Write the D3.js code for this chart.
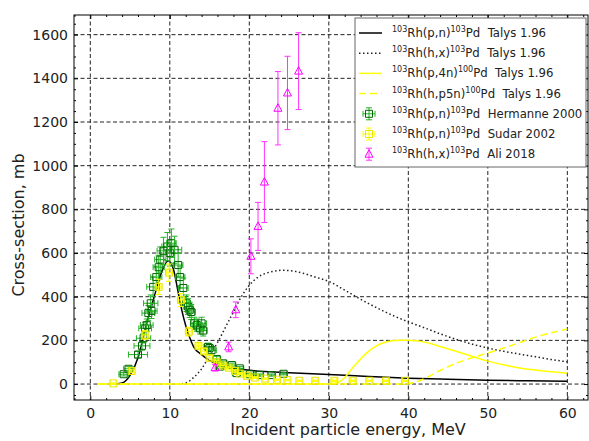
<!DOCTYPE html>
<html>
<head>
<meta charset="utf-8">
<script src="https://cdn.jsdelivr.net/npm/d3@7"></script>
<style>
  body { margin: 0; background: #fff; }
  svg { font-family: "DejaVu Sans", sans-serif; }
</style>
</head>
<body>
<svg id="drawing_region"></svg>
<script>
// Talys curves: energy (MeV) and cross-section (mb)
const pnTalysE  = [3.2, 4, 5, 6, 7, 8, 9, 9.8, 10.5, 11, 11.5, 12, 12.5, 13, 14, 15, 16, 17, 18, 20, 25, 30, 35, 40, 45, 50, 55, 60];
const pnTalysXs = [0, 5, 40, 120, 265, 395, 515, 565, 520, 430, 340, 268, 213, 170, 135, 108, 90, 79, 72, 63, 52, 44, 35, 27, 22, 18, 15, 13];

const hxTalysE  = [11, 12, 13, 14, 15, 16, 17, 18, 19, 20, 21, 22, 23, 24, 25, 26, 27, 28, 30, 32, 34, 36, 38, 40, 42, 44, 46, 48, 50, 52, 54, 56, 58, 60];
const hxTalysXs = [0, 5, 30, 70, 130, 190, 260, 330, 400, 452, 487, 506, 516, 521, 520, 514, 505, 493, 470, 430, 388, 350, 315, 285, 258, 230, 205, 183, 165, 150, 137, 125, 112, 102];

const p4nTalysE  = [1, 30, 31, 32, 33, 34, 35, 36, 37, 38, 39, 40, 41, 42, 43, 44, 46, 48, 50, 52, 54, 56, 58, 60];
const p4nTalysXs = [0, 0, 5, 30, 75, 115, 150, 175, 190, 198, 201, 201, 198, 192, 183, 172, 150, 127, 105, 88, 74, 64, 56, 50];

const hp5nTalysE  = [1, 39, 40, 41, 42, 44, 46, 48, 50, 52, 54, 56, 58, 60];
const hp5nTalysXs = [0, 0, 2, 10, 25, 62, 95, 120, 142, 165, 190, 215, 235, 252];

// Hermanne 2000: energy, cross-section, energy error, cross-section error
const hermE   = [4.2, 4.8, 6.0, 6.5, 6.7, 6.9, 7.1, 7.3, 7.6, 7.7, 7.9, 8.3, 8.6, 8.8, 9.2, 9.7, 10.0, 10.2, 10.6, 11.05, 11.3, 11.7, 12.1, 12.3, 12.5, 12.7, 13.1, 13.4, 13.8, 14.0, 14.2, 14.8, 15.0, 15.25, 15.9, 16.3, 16.7, 17.8, 18.4, 18.8, 20.1, 21.3, 22.8, 24.3];
const hermXs  = [45, 70, 135, 175, 210, 255, 270, 325, 370, 335, 445, 490, 535, 570, 610, 630, 600, 645, 615, 545, 490, 440, 370, 355, 340, 330, 278, 270, 255, 278, 245, 170, 165, 155, 115, 80, 95, 87, 50, 72, 45, 41, 41, 47];
const hermDE  = [0.6, 0.6, 1.2, 1.0, 0.9, 0.8, 0.8, 0.8, 0.9, 0.7, 0.8, 0.7, 0.7, 0.7, 0.8, 0.7, 0.6, 0.6, 0.9, 0.6, 0.6, 0.6, 0.5, 0.6, 0.5, 0.5, 0.5, 0.5, 0.6, 0.6, 0.5, 0.5, 0.5, 0.6, 0.5, 0.5, 0.5, 0.5, 0.5, 0.5, 0.5, 0.5, 0.5, 0.5];
const hermDXs = [8, 10, 15, 20, 22, 28, 28, 35, 38, 35, 45, 50, 55, 58, 62, 64, 60, 65, 62, 55, 50, 45, 38, 36, 35, 34, 28, 28, 26, 28, 25, 17, 17, 16, 12, 8, 10, 9, 6, 8, 5, 5, 5, 5];

// Sudar 2002
const sudarE   = [2.9, 5.2, 6.9, 8.6, 9.9, 11.4, 12.4, 13.6, 14.3, 15.0, 15.9, 16.7, 17.4, 18.2, 18.8, 19.7, 20.7, 22.0, 23.5, 24.8, 26.3, 28.3, 30.7, 33.0, 35.1, 37.2, 39.6];
const sudarXs  = [3, 60, 225, 445, 510, 385, 240, 175, 150, 120, 100, 85, 75, 60, 48, 38, 30, 25, 20, 18, 15, 15, 15, 15, 15, 15, 15];
const sudarDE  = [0.3, 0.3, 0.3, 0.3, 0.3, 0.3, 0.3, 0.3, 0.3, 0.3, 0.3, 0.3, 0.3, 0.3, 0.3, 0.3, 0.3, 0.3, 0.3, 0.3, 0.3, 0.3, 0.3, 0.3, 0.3, 0.3, 0.3];
const sudarDXs = [2, 8, 20, 35, 40, 30, 20, 15, 12, 10, 9, 8, 7, 6, 5, 4, 4, 3, 3, 3, 3, 3, 3, 3, 3, 3, 3];

// Ali 2018
const aliE   = [15.7, 17.4, 18.3, 20.2, 21.1, 21.9, 23.6, 24.8, 26.2];
const aliXs  = [75, 170, 340, 585, 722, 925, 1263, 1333, 1433];
const aliDXs = [15, 22, 36, 80, 110, 185, 168, 168, 176];

const xTicks = [0, 10, 20, 30, 40, 50, 60];
const yTicks = [0, 200, 400, 600, 800, 1000, 1200, 1400, 1600];

const width = 589, height = 441;
const margin = {top: 15, right: 1, bottom: 41, left: 74};
const innerW = width - margin.left - margin.right;
const innerH = height - margin.top - margin.bottom;

const svg = d3.select('#drawing_region')
    .attr('width', width)
    .attr('height', height);

const chart = svg.append('g')
    .attr('transform', `translate(${margin.left}, ${margin.top})`);

const xscale = d3.scaleLinear().domain([-2.05, 62.6]).range([0, innerW]);
const yscale = d3.scaleLinear().domain([-73, 1690]).range([innerH, 0]);

// grid
chart.append('g').selectAll('line')
    .data(xTicks).join('line')
    .attr('x1', d => xscale(d)).attr('x2', d => xscale(d))
    .attr('y1', 0).attr('y2', innerH)
    .attr('stroke', '#222').attr('stroke-width', 1).attr('stroke-dasharray', '4,2.5');
chart.append('g').selectAll('line')
    .data(yTicks).join('line')
    .attr('y1', d => yscale(d)).attr('y2', d => yscale(d))
    .attr('x1', 0).attr('x2', innerW)
    .attr('stroke', '#222').attr('stroke-width', 1).attr('stroke-dasharray', '4,2.5');

// axes with inward ticks
const xMinor = d3.range(-2, 63, 2).filter(d => d % 10 !== 0);
const yMinor = d3.range(-50, 1700, 50).filter(d => d % 200 !== 0);

function styleAxis(g) {
    g.select('.domain').remove();
    g.selectAll('.tick line').attr('stroke', '#000');
    g.selectAll('.tick text').attr('fill', '#222').attr('font-size', 14).attr('font-family', '"DejaVu Sans", sans-serif');
}

chart.append('g').attr('transform', `translate(0, ${innerH})`)
    .call(d3.axisBottom(xscale).tickValues(xTicks).tickSize(-4).tickPadding(8).tickFormat(d3.format('d')))
    .call(styleAxis);
chart.append('g').attr('transform', `translate(0, ${innerH})`)
    .call(d3.axisBottom(xscale).tickValues(xMinor).tickSize(-2).tickFormat(''))
    .call(styleAxis);
chart.append('g')
    .call(d3.axisTop(xscale).tickValues(xTicks).tickSize(-4).tickFormat(''))
    .call(styleAxis);
chart.append('g')
    .call(d3.axisTop(xscale).tickValues(xMinor).tickSize(-2).tickFormat(''))
    .call(styleAxis);

chart.append('g')
    .call(d3.axisLeft(yscale).tickValues(yTicks).tickSize(-4).tickPadding(6).tickFormat(d3.format('d')))
    .call(styleAxis);
chart.append('g')
    .call(d3.axisLeft(yscale).tickValues(yMinor).tickSize(-2).tickFormat(''))
    .call(styleAxis);
chart.append('g').attr('transform', `translate(${innerW}, 0)`)
    .call(d3.axisRight(yscale).tickValues(yTicks).tickSize(-4).tickFormat(''))
    .call(styleAxis);
chart.append('g').attr('transform', `translate(${innerW}, 0)`)
    .call(d3.axisRight(yscale).tickValues(yMinor).tickSize(-2).tickFormat(''))
    .call(styleAxis);

// curves
const line = d3.line()
    .x(d => xscale(d[0]))
    .y(d => yscale(d[1]))
    .curve(d3.curveMonotoneX);

const curves = [
    {e: pnTalysE,   xs: pnTalysXs,   color: '#000', dash: null,      w: 1.5},
    {e: hxTalysE,   xs: hxTalysXs,   color: '#222', dash: '1.5,2.5', w: 1.5},
    {e: p4nTalysE,  xs: p4nTalysXs,  color: '#ffff00', dash: null,   w: 1.5},
    {e: hp5nTalysE, xs: hp5nTalysXs, color: '#ffff00', dash: '7,4',  w: 1.5},
];
curves.forEach(c => {
    chart.append('path')
        .datum(d3.zip(c.e, c.xs))
        .attr('d', line)
        .attr('fill', 'none')
        .attr('stroke', c.color)
        .attr('stroke-width', c.w)
        .attr('stroke-dasharray', c.dash);
});

// error bar groups
function errorPoints(e, xs, de, dxs, barColor, markColor, marker) {
    const g = chart.append('g');
    const pts = d3.range(e.length).map(i => ({x: e[i], y: xs[i], dx: de ? de[i] : 0, dy: dxs[i]}));
    const cap = 3;
    const p = g.selectAll('g').data(pts).join('g');
    p.append('line')
        .attr('x1', d => xscale(d.x)).attr('x2', d => xscale(d.x))
        .attr('y1', d => yscale(d.y - d.dy)).attr('y2', d => yscale(d.y + d.dy))
        .attr('stroke', barColor);
    p.append('line')
        .attr('x1', d => xscale(d.x) - cap).attr('x2', d => xscale(d.x) + cap)
        .attr('y1', d => yscale(d.y + d.dy)).attr('y2', d => yscale(d.y + d.dy))
        .attr('stroke', barColor);
    p.append('line')
        .attr('x1', d => xscale(d.x) - cap).attr('x2', d => xscale(d.x) + cap)
        .attr('y1', d => yscale(d.y - d.dy)).attr('y2', d => yscale(d.y - d.dy))
        .attr('stroke', barColor);
    if (de) {
        p.append('line')
            .attr('x1', d => xscale(d.x - d.dx)).attr('x2', d => xscale(d.x + d.dx))
            .attr('y1', d => yscale(d.y)).attr('y2', d => yscale(d.y))
            .attr('stroke', barColor);
        p.append('line')
            .attr('x1', d => xscale(d.x - d.dx)).attr('x2', d => xscale(d.x - d.dx))
            .attr('y1', d => yscale(d.y) - cap).attr('y2', d => yscale(d.y) + cap)
            .attr('stroke', barColor);
        p.append('line')
            .attr('x1', d => xscale(d.x + d.dx)).attr('x2', d => xscale(d.x + d.dx))
            .attr('y1', d => yscale(d.y) - cap).attr('y2', d => yscale(d.y) + cap)
            .attr('stroke', barColor);
    }
    p.append('path')
        .attr('transform', d => `translate(${xscale(d.x)}, ${yscale(d.y)})`)
        .attr('d', marker)
        .attr('fill', 'none')
        .attr('stroke', markColor)
        .attr('stroke-width', 1);
}

const squareMark = 'M-3.5,-3.5H3.5V3.5H-3.5Z';
const triMark = 'M0,-4.5L4,3L-4,3Z';

errorPoints(hermE, hermXs, hermDE, hermDXs, '#22b322', '#006400', squareMark);
errorPoints(sudarE, sudarXs, sudarDE, sudarDXs, '#ffff00', '#e6e600', squareMark);
errorPoints(aliE, aliXs, null, aliDXs, '#ff33ff', '#ff00ff', triMark);

// frame
chart.append('rect')
    .attr('width', innerW).attr('height', innerH)
    .attr('fill', 'none').attr('stroke', '#000').attr('stroke-width', 1);

// axis labels
svg.append('text')
    .attr('x', 348).attr('y', 435)
    .attr('text-anchor', 'middle')
    .attr('font-size', 16).attr('fill', '#222')
    .text('Incident particle energy, MeV');
svg.append('text')
    .attr('transform', 'translate(24, 225) rotate(-90)')
    .attr('text-anchor', 'middle')
    .attr('font-size', 16).attr('fill', '#222')
    .text('Cross-section, mb');

// legend
const legendItems = [
    {a: '103', r: 'Rh(p,n)', b: '103', p: 'Pd  Talys 1.96', kind: 'line', color: '#000', dash: null},
    {a: '103', r: 'Rh(h,x)', b: '103', p: 'Pd  Talys 1.96', kind: 'line', color: '#222', dash: '1.5,2.5'},
    {a: '103', r: 'Rh(p,4n)', b: '100', p: 'Pd  Talys 1.96', kind: 'line', color: '#ffff00', dash: null},
    {a: '103', r: 'Rh(h,p5n)', b: '100', p: 'Pd  Talys 1.96', kind: 'line', color: '#ffff00', dash: '7,4'},
    {a: '103', r: 'Rh(p,n)', b: '103', p: 'Pd  Hermanne 2000', kind: 'sq', color: '#22b322', mark: '#006400'},
    {a: '103', r: 'Rh(p,n)', b: '103', p: 'Pd  Sudar 2002', kind: 'sq', color: '#ffff00', mark: '#e6e600'},
    {a: '103', r: 'Rh(h,x)', b: '103', p: 'Pd  Ali 2018', kind: 'tri', color: '#ff33ff', mark: '#ff00ff'},
];

const legend = svg.append('g').attr('transform', 'translate(355, 18)');
legend.append('rect')
    .attr('width', 231).attr('height', 149)
    .attr('fill', '#fff').attr('stroke', '#666').attr('stroke-width', 1);

const rows = legend.selectAll('g.row').data(legendItems).join('g')
    .attr('class', 'row')
    .attr('transform', (d, i) => `translate(0, ${15 + i * 20.2})`);

rows.filter(d => d.kind === 'line').append('line')
    .attr('x1', 4).attr('x2', 27).attr('y1', 0).attr('y2', 0)
    .attr('stroke', d => d.color).attr('stroke-width', 1.5)
    .attr('stroke-dasharray', d => d.dash);

rows.filter(d => d.kind !== 'line').each(function(d) {
    const g = d3.select(this);
    const cx = 14, c = 3;
    g.append('line').attr('x1', cx).attr('x2', cx).attr('y1', -6).attr('y2', 6).attr('stroke', d.color);
    g.append('line').attr('x1', cx - c).attr('x2', cx + c).attr('y1', -6).attr('y2', -6).attr('stroke', d.color);
    g.append('line').attr('x1', cx - c).attr('x2', cx + c).attr('y1', 6).attr('y2', 6).attr('stroke', d.color);
    if (d.kind === 'sq') {
        g.append('line').attr('x1', cx - 6).attr('x2', cx + 6).attr('y1', 0).attr('y2', 0).attr('stroke', d.color);
        g.append('line').attr('x1', cx - 6).attr('x2', cx - 6).attr('y1', -c).attr('y2', c).attr('stroke', d.color);
        g.append('line').attr('x1', cx + 6).attr('x2', cx + 6).attr('y1', -c).attr('y2', c).attr('stroke', d.color);
    }
    g.append('path').attr('transform', `translate(${cx}, 0)`)
        .attr('d', d.kind === 'sq' ? squareMark : triMark)
        .attr('fill', 'none').attr('stroke', d.mark);
});

const txt = rows.append('text')
    .attr('x', 37).attr('y', 4)
    .attr('font-size', 11.7).attr('fill', '#222')
    .style('white-space', 'pre');
txt.append('tspan').attr('font-size', 8).attr('dy', -5).text(d => d.a);
txt.append('tspan').attr('dy', 5).text(d => d.r);
txt.append('tspan').attr('font-size', 8).attr('dy', -5).text(d => d.b);
txt.append('tspan').attr('dy', 5).text(d => d.p);
</script>
</body>
</html>
